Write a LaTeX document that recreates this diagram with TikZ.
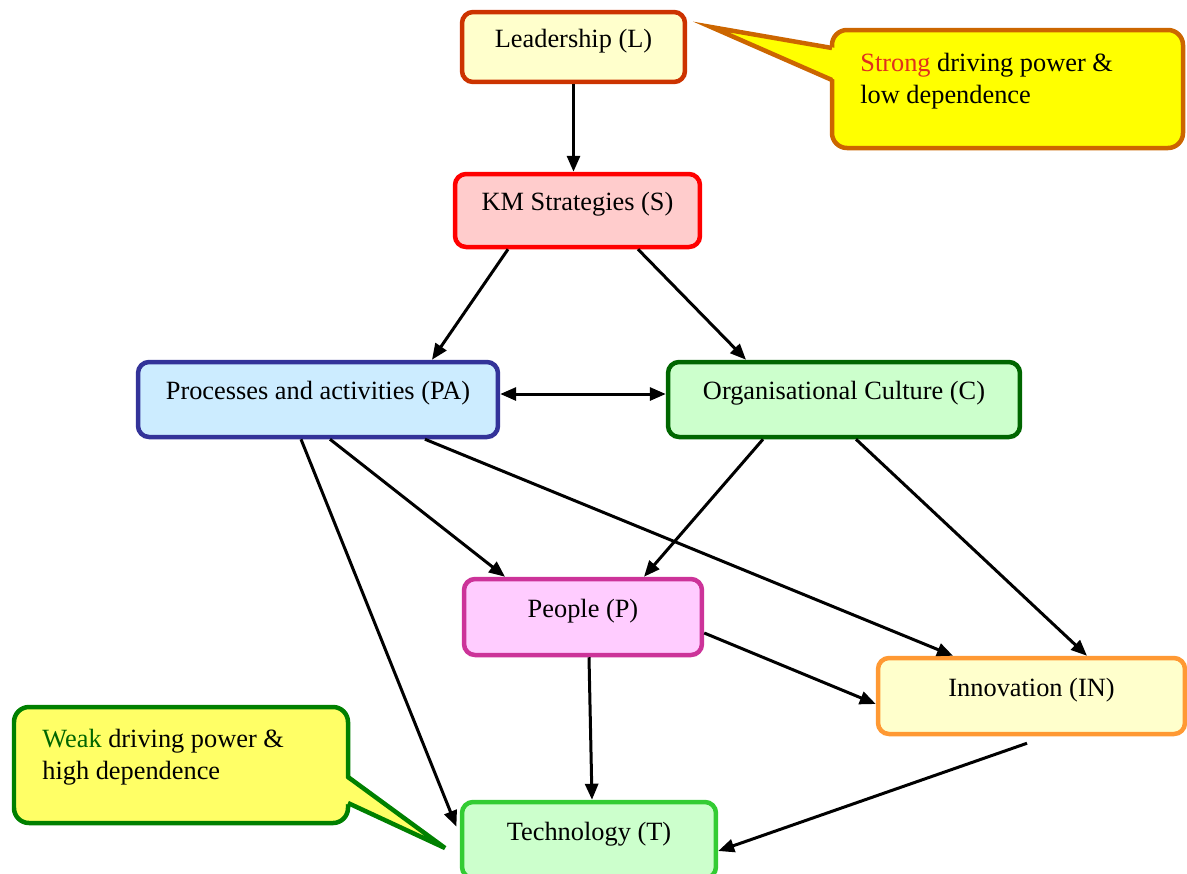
\documentclass[tikz,border=0pt]{standalone}
\usepackage{fontspec}
\setmainfont{Liberation Serif}
\usetikzlibrary{arrows.meta}
\definecolor{leadline}{HTML}{CC3300}
\definecolor{leadfill}{HTML}{FFFFCC}
\definecolor{stratline}{HTML}{FF0000}
\definecolor{stratfill}{HTML}{FFCCCC}
\definecolor{procline}{HTML}{333399}
\definecolor{procfill}{HTML}{CCECFF}
\definecolor{cultline}{HTML}{006600}
\definecolor{cultfill}{HTML}{CCFFCC}
\definecolor{peopline}{HTML}{CC3399}
\definecolor{peopfill}{HTML}{FFCCFF}
\definecolor{innoline}{HTML}{FF9933}
\definecolor{innofill}{HTML}{FFFFCC}
\definecolor{techline}{HTML}{33CC33}
\definecolor{techfill}{HTML}{CCFFCC}
\definecolor{strongline}{HTML}{CC6600}
\definecolor{strongfill}{HTML}{FFFF00}
\definecolor{strongword}{HTML}{E0301E}
\definecolor{weakline}{HTML}{008000}
\definecolor{weakfill}{HTML}{FFFF66}
\definecolor{weakword}{HTML}{006600}
\begin{document}
\begin{tikzpicture}[x=0.02cm,y=-0.02cm,
  >={Triangle[length=0.32cm,width=0.26cm]},
  box/.style={draw,rounded corners=0.22cm,line width=0.09cm,inner sep=0pt,
    text height=0.3cm,text depth=0.3cm,font=\fontsize{15}{18}\selectfont},
  link/.style={line width=0.06cm},
  note/.style={line width=0.09cm,line join=miter},
  notetext/.style={anchor=north west,inner sep=0pt,align=left,
    font=\fontsize{15}{18.2}\selectfont}]
  \useasboundingbox (0,0) rectangle (1187,873);
  % callouts
  \draw[note,draw=strongline,fill=strongfill,rounded corners=0.3cm]
    (832,30) rectangle (1183,148);
  \fill[strongfill] (836,48) -- (711,27) -- (836,80) -- cycle;
  \draw[note,draw=strongline] (832,48) -- (711,27) -- (832,80);
  \node[notetext] (strongtext) at (860,53)
    {\textcolor{strongword}{Strong} driving power \&\\low dependence};
  \draw[note,draw=weakline,fill=weakfill,rounded corners=0.3cm]
    (14,707) rectangle (348,823);
  \fill[weakfill] (344,777) -- (445,848) -- (344,803) -- cycle;
  \draw[note,draw=weakline] (348,777) -- (445,848) -- (348,803);
  \node[notetext] (weaktext) at (42,729)
    {\textcolor{weakword}{Weak} driving power \&\\high dependence};
  % factors
  \node[box,draw=leadline,fill=leadfill,minimum width=4.46cm,minimum height=1.4cm]
    (L) at (573.5,47) {Leadership (L)};
  \node[box,draw=stratline,fill=stratfill,minimum width=4.9cm,minimum height=1.46cm]
    (S) at (577.5,210.5) {KM Strategies (S)};
  \node[box,draw=procline,fill=procfill,minimum width=7.2cm,minimum height=1.5cm]
    (PA) at (318,399.5) {Processes and activities (PA)};
  \node[box,draw=cultline,fill=cultfill,minimum width=7.04cm,minimum height=1.5cm]
    (C) at (844,399.5) {Organisational Culture (C)};
  \node[box,draw=peopline,fill=peopfill,minimum width=4.76cm,minimum height=1.52cm]
    (P) at (583,617) {People (P)};
  \node[box,draw=innoline,fill=innofill,minimum width=6.14cm,minimum height=1.52cm]
    (IN) at (1031.5,696) {Innovation (IN)};
  \node[box,draw=techline,fill=techfill,minimum width=5.08cm,minimum height=1.52cm]
    (T) at (589,840) {Technology (T)};
  % links
  \draw[link,->] (L.south) -- (L.south |- S.north);
  \draw[link,->] ([xshift=-1.39cm]S.south) -- ([xshift=2.28cm]PA.north);
  \draw[link,->] ([xshift=1.21cm]S.south) -- ([xshift=-1.96cm]C.north);
  \draw[link,<->] ([yshift=0.11cm]PA.east) -- ([yshift=0.11cm]C.west);
  \draw[link,->] ([xshift=0.24cm]PA.south) -- ([xshift=-1.56cm]P.north);
  \draw[link,->] ([xshift=2.14cm]PA.south) -- ([xshift=-1.57cm]IN.north);
  \draw[link,->,shorten >=0.18cm] ([xshift=-0.34cm]PA.south) -- ([yshift=0.1cm]T.west);
  \draw[link,->] ([xshift=-1.62cm]C.south) -- ([xshift=1.22cm]P.north);
  \draw[link,->] ([xshift=0.24cm]C.south) -- ([xshift=1.11cm]IN.north);
  \draw[link,->] ([yshift=-0.32cm]P.east) -- ([yshift=-0.16cm]IN.west);
  \draw[link,->] ([xshift=0.12cm]P.south) -- ([xshift=0.06cm]T.north);
  \draw[link,->] ([xshift=-0.09cm,yshift=-0.14cm]IN.south) -- ([yshift=-0.22cm]T.east);
\end{tikzpicture}
\end{document}
